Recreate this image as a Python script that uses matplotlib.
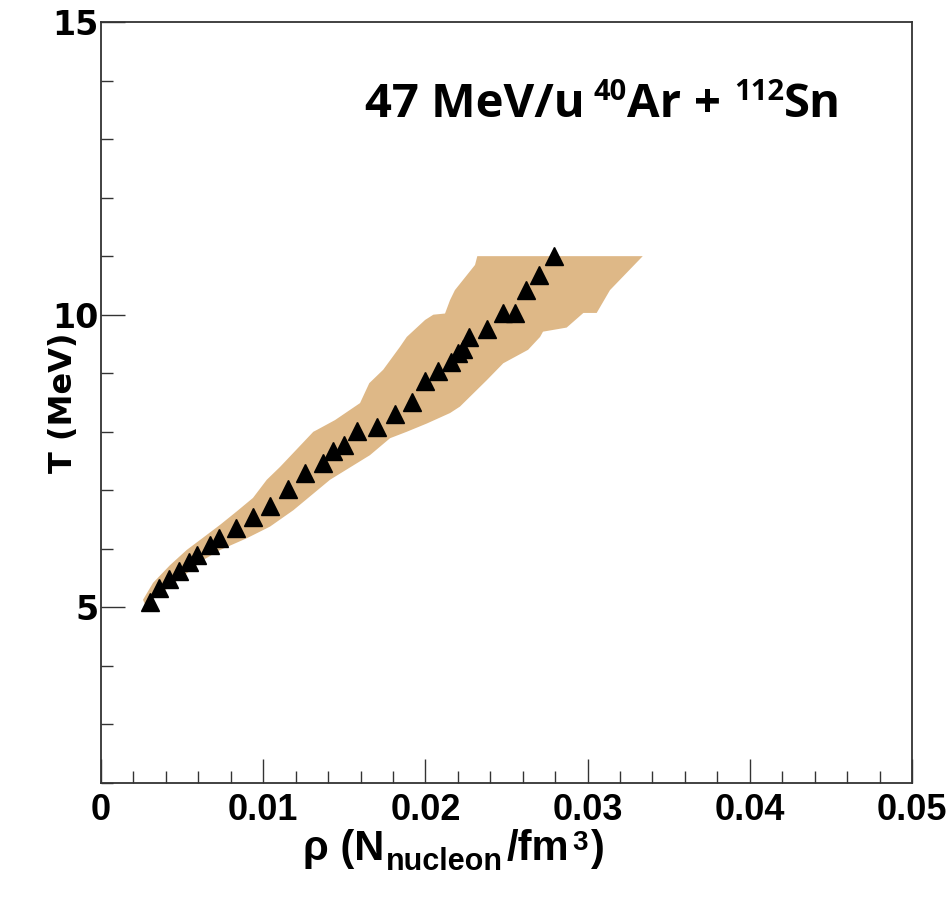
import numpy as np
import matplotlib
matplotlib.use('Agg')
import matplotlib.pyplot as plt
from matplotlib.ticker import MultipleLocator

# punti sperimentali (triangoli): densita' e temperatura
rho = [0.0030, 0.0036, 0.0042, 0.0048, 0.0054, 0.0059, 0.0067, 0.0073,
       0.0083, 0.0094, 0.0104, 0.0115, 0.0126, 0.0137, 0.0143, 0.0150,
       0.0158, 0.0170, 0.0181, 0.0192, 0.0200, 0.0208, 0.0216, 0.0220,
       0.0223, 0.0227, 0.0238, 0.0248, 0.0255, 0.0262, 0.0270, 0.0279]
temp = [5.10, 5.33, 5.49, 5.63, 5.78, 5.90, 6.07, 6.19,
        6.36, 6.54, 6.74, 7.03, 7.29, 7.47, 7.67, 7.77,
        8.01, 8.08, 8.30, 8.51, 8.87, 9.03, 9.20, 9.34,
        9.41, 9.62, 9.76, 10.03, 10.03, 10.43, 10.67, 11.00]

# banda di errore: bordo sinistro (dal basso in alto)
banda_sx_rho = [0.0027, 0.00259, 0.00321, 0.00425, 0.00528, 0.00629, 0.00734, 0.00837,
                0.00937, 0.01022, 0.01104, 0.01309, 0.0133, 0.01443, 0.01597,
                0.01654, 0.0174, 0.01843, 0.01885, 0.01998, 0.02049, 0.02121,
                0.02152, 0.02182, 0.02306, 0.0232]
banda_sx_T = [5.06, 5.13, 5.42, 5.72, 5.98, 6.19, 6.41, 6.64,
              6.87, 7.18, 7.40, 8.00, 8.03, 8.20, 8.49,
              8.83, 9.06, 9.45, 9.62, 9.91, 10.0, 10.02,
              10.25, 10.42, 10.85, 11.0]
# bordo destro (dall'alto in basso)
banda_dx_rho = [0.0334, 0.03138, 0.03056, 0.02974, 0.02871, 0.02725, 0.02707,
                0.02633, 0.0248, 0.02378, 0.02213, 0.02152, 0.02008, 0.01885,
                0.01782, 0.01658, 0.01412, 0.01186, 0.01042, 0.00898, 0.00734,
                0.00631, 0.00528, 0.00343]
banda_dx_T = [11.0, 10.42, 10.03, 10.03, 9.78, 9.71, 9.62,
              9.40, 9.17, 8.88, 8.43, 8.32, 8.14, 8.0,
              7.89, 7.60, 7.18, 6.66, 6.38, 6.18, 5.98,
              5.81, 5.58, 5.18]

W, H = 949, 899
fig = plt.figure(figsize=(W / 100, H / 100), dpi=100)
ax = fig.add_axes([101 / W, 1 - 783 / H, (912 - 101) / W, (783 - 22) / H])

ax.fill(banda_sx_rho + banda_dx_rho, banda_sx_T + banda_dx_T, color='#DEB887', lw=0)
ax.plot(rho, temp, '^', color='black', ms=13, mec='black')

ax.set_xlim(0, 0.05)
ax.set_ylim(2, 15)
ax.xaxis.set_major_locator(MultipleLocator(0.01))
ax.xaxis.set_minor_locator(MultipleLocator(0.002))
ax.yaxis.set_major_locator(MultipleLocator(5))
ax.yaxis.set_minor_locator(MultipleLocator(1))
ax.xaxis.set_major_formatter(lambda v, p: '0' if v == 0 else f'{v:.2f}')
ax.tick_params(which='both', direction='in', top=False, right=False, width=1, color='#333333')
ax.tick_params(which='major', length=17)
ax.tick_params(which='minor', length=8.5)
ax.tick_params(axis='x', pad=7)
ax.tick_params(axis='y', pad=2)
for s in ax.spines.values():
    s.set_linewidth(1.3)
    s.set_color('#333333')

font_x = ['Liberation Sans', 'DejaVu Sans']
for lab in ax.get_xticklabels():
    lab.set_fontfamily(font_x)
    lab.set_fontweight('bold')
    lab.set_fontsize(26)
for lab in ax.get_yticklabels():
    lab.set_fontfamily('DejaVu Sans')
    lab.set_fontweight('bold')
    lab.set_fontsize(24)

fig.text(64 / W, 1 - 403 / H, 'T (MeV)', rotation=90, ha='center', va='center',
         fontsize=23, fontweight='bold', family='DejaVu Sans')

fig.canvas.draw()
renderer = fig.canvas.get_renderer()


# scrive un testo a pezzi (apici e pedici) in coordinate pixel
def scrivi(pezzi, x, y, famiglia):
    for testo, size, salto, spazio in pezzi:
        t = fig.text(x + spazio, y + salto, testo, fontsize=size, fontweight='bold',
                     family=famiglia, va='baseline', ha='left', transform=None)
        x = t.get_window_extent(renderer).x1


titolo = [('47 MeV/u', 34, 0, 0), ('40', 21, 17, 9), ('Ar', 34, 0, 0),
          ('+', 34, 0, 13), ('112', 21, 17, 13), ('Sn', 34, 0, 0)]
scrivi(titolo, 365, H - 117, ['Open Sans', 'DejaVu Sans'])

etichetta_x = [('ρ (N', 30, 0, 0), ('nucleon', 22, -10, 2), ('/fm', 30, 0, 3),
               ('3', 20, 10, 3), (')', 30, 0, 4)]
scrivi(etichetta_x, 303, H - 860, font_x)

fig.savefig('out.png', dpi=100)
